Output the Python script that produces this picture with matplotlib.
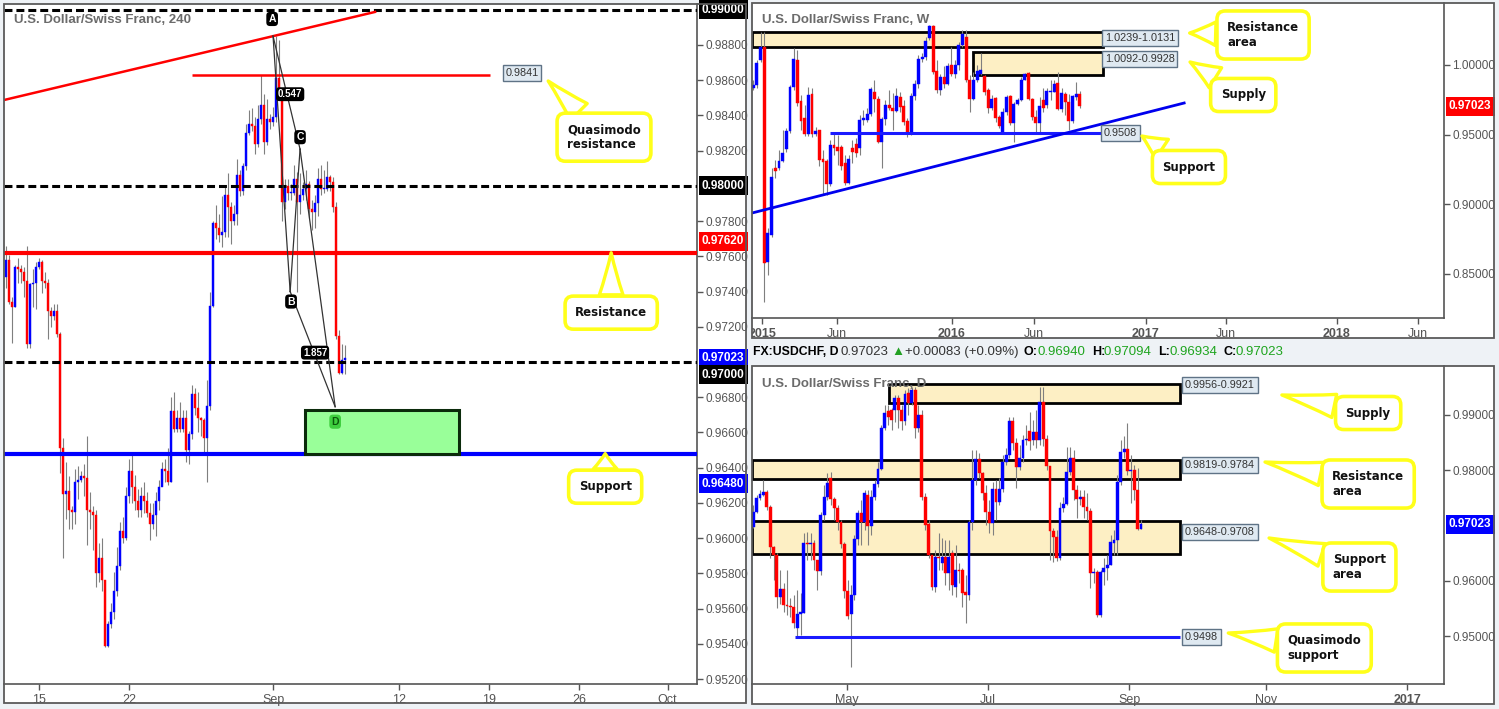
import numpy as np
import matplotlib
matplotlib.use('Agg')
import matplotlib.pyplot as plt
from matplotlib.patches import Rectangle

plt.rcParams['font.family'] = ['Liberation Sans', 'DejaVu Sans']

# ---------------- 4H candles (left panel) ----------------
h4_first_open = 0.9748
h4_close = [.9758, .9734, .9731, .9754, .9753, .9751, .9746, .9710, .9744, .9745,
            .9754, .9757, .9746, .9745, .9729, .9726, .9729, .9716, .9651, .9625,
            .9627, .9616, .9615, .9632, .9633, .9635, .9634, .9616, .9615, .9613,
            .9580, .9589, .9576, .9539, .9551, .9558, .9570, .9584, .9604, .9600,
            .9624, .9638, .9629, .9621, .9616, .9624, .9621, .9614, .9608, .9613,
            .9621, .9629, .9639, .9638, .9632, .9672, .9662, .9668, .9662, .9668,
            .9650, .9659, .9682, .9674, .9668, .9667, .9657, .9675, .9732, .9779,
            .9776, .9772, .9774, .9795, .9788, .9780, .9784, .9806, .9797, .9811,
            .9830, .9835, .9834, .9824, .9838, .9846, .9825, .9838, .9836, .9839,
            .9861, .9852, .9791, .9800, .9796, .9796, .9804, .9791, .9795, .9798,
            .9801, .9787, .9785, .9790, .9804, .9798, .9798, .9805, .9802, .9788,
            .9715, .9694, .9701, .97023]
h4_high = [.9766, .9761, .9737, .9755, .9759, .9755, .9754, .9766, .9745, .9753,
           .9757, .9759, .9758, .9751, .9747, .9731, .9733, .9733, .9717, .9657,
           .9643, .9635, .9618, .9639, .9641, .9638, .9642, .9658, .9626, .9618,
           .9616, .9597, .9600, .9576, .9553, .9563, .9581, .9595, .9609, .9612,
           .9629, .9645, .9649, .9636, .9628, .9629, .9632, .9626, .9620, .9620,
           .9626, .9633, .9643, .9645, .9651, .9680, .9683, .9673, .9677, .9673,
           .9673, .9661, .9687, .9685, .9683, .9669, .9668, .9690, .9740, .9780,
           .9789, .9784, .9794, .9800, .9807, .9791, .9789, .9815, .9809, .9813,
           .9835, .9843, .9844, .9839, .9846, .9863, .9852, .9849, .9841, .9845,
           .9885, .9883, .9855, .9804, .9804, .9801, .9812, .9808, .9807, .9802,
           .9809, .9803, .9792, .9795, .9810, .9812, .9809, .9814, .9806, .9805,
           .9791, .9718, .9710, .97094]
h4_low = [.9742, .9733, .9711, .9731, .9745, .9745, .9737, .9708, .9708, .9731,
          .9730, .9753, .9739, .9742, .9713, .9720, .9724, .9714, .9637, .9589,
          .9611, .9605, .9605, .9608, .9622, .9632, .9624, .9596, .9605, .9593,
          .9572, .9575, .9570, .9538, .9538, .9549, .9554, .9567, .9582, .9597,
          .9599, .9620, .9620, .9616, .9612, .9612, .9614, .9612, .9599, .9605,
          .9601, .9616, .9630, .9632, .9630, .9632, .9660, .9660, .9660, .9660,
          .9643, .9642, .9656, .9670, .9660, .9658, .9649, .9632, .9673, .9731,
          .9770, .9768, .9765, .9771, .9771, .9767, .9778, .9778, .9794, .9795,
          .9809, .9829, .9831, .9818, .9822, .9835, .9818, .9823, .9832, .9834,
          .9836, .9849, .9780, .9787, .9792, .9792, .9795, .9740, .9784, .9792,
          .9792, .9782, .9775, .9776, .9783, .9795, .9796, .9797, .9797, .9785,
          .9713, .9693, .9693, .96934]
h4_tick_pos = [11, 41, 89, 131, 161, 191, 220.5]
h4_tick_lab = ['15', '22', 'Sep', '12', '19', '26', 'Oct']

# ---------------- weekly candles (top right) ----------------
w_open = [.9835, .9856, 1.0036, 1.0129, .8583, .8777, .9259, .9259, .9309, .9396,
          .9525, .9842, 1.0036, .9741, .9619, .9504, .9791, .9504, .9532, .9324,
          .9309, .9144, .9424, .9410, .9410, .9295, .9151, .9403, .9432, .9403,
          .9604, .9604, .9648, .9806, .9755, .9446, .9612, .9712, .9691, .9669,
          .9770, .9705, .9597, .9504, .9777, .9863, 1.0043, 1.0058, 1.0194, 1.0281,
          .9957, .9820, .9914, .9863, 1.0000, .9935, 1.0000, 1.0144, 1.0201, .9892,
          .9755, .9892, .9935, .9921, .9820, .9691, .9763, .9626, .9511, .9662,
          .9777, .9583, .9719, .9748, .9892, .9942, .9755, .9626, .9583, .9748,
          .9712, .9806, .9806, .9871, .9684, .9791, .9734, .9597, .9770, .9791]
w_close = [.9856, 1.0014, 1.0129, .8576, .8791, .9194, .9237, .9309, .9367, .9525,
           .9842, 1.0043, .9727, .9597, .9504, .9784, .9504, .9525, .9317, .9302,
           .9144, .9424, .9403, .9381, .9273, .9151, .9324, .9374, .9367, .9604,
           .9619, .9648, .9827, .9755, .9446, .9612, .9712, .9691, .9669, .9777,
           .9698, .9590, .9511, .9777, .9863, 1.0043, 1.0058, 1.0173, 1.0281, .9950,
           .9820, .9914, .9863, .9993, .9935, 1.0000, 1.0144, 1.0223, .9892, .9755,
           .9892, .9957, .9964, .9806, .9691, .9755, .9619, .9561, .9662, .9770,
           .9583, .9719, .9748, .9892, .9935, .9755, .9626, .9583, .9705, .9691,
           .9813, .9813, .9863, .9684, .9799, .9734, .9597, .9777, .9791, .97023]
w_high = [.9892, 1.0036, 1.0237, 1.0237, .8827, .9259, .9317, .9388, .9532, .9547,
          .9856, 1.0122, 1.0108, .9784, .9712, .9842, .9835, .9554, .9532, .9388,
          .9324, .9460, .9511, .9496, .9424, .9353, .9353, .9460, .9475, .9640,
          .9676, .9691, .9842, .9892, .9777, .9626, .9748, .9820, .9799, .9835,
          .9806, .9748, .9619, .9799, .9892, 1.0072, 1.0086, 1.0201, 1.0288, 1.0288,
          1.0036, .9935, .9993, 1.0014, 1.0129, 1.0036, 1.0165, 1.0252, 1.0252, .9928,
          .9950, 1.0000, 1.0086, .9928, .9835, .9784, .9770, .9640, .9691, .9784,
          .9784, .9734, .9763, .9914, .9942, .9950, .9763, .9676, .9770, .9835,
          .9835, .9892, .9892, .9950, .9835, .9806, .9791, .9784, .9878, .9813]
w_low = [.9820, .9835, 1.0022, .8295, .8489, .8763, .9187, .9245, .9302, .9374,
         .9511, .9820, .9705, .9532, .9489, .9489, .9482, .9489, .9273, .9065,
         .9065, .9129, .9353, .9281, .9245, .9137, .9144, .9295, .9338, .9353,
         .9568, .9590, .9633, .9662, .9439, .9259, .9568, .9676, .9532, .9662,
         .9662, .9568, .9482, .9496, .9748, .9835, 1.0022, 1.0036, 1.0180, .9935,
         .9799, .9784, .9835, .9856, .9921, .9906, .9964, 1.0129, .9878, .9662,
         .9748, .9878, .9928, .9784, .9655, .9676, .9590, .9547, .9518, .9640,
         .9568, .9446, .9712, .9741, .9892, .9748, .9604, .9518, .9518, .9662,
         .9691, .9748, .9806, .9676, .9662, .9640, .9532, .9583, .9748, .9691]
w_tick_pos = [2.4, 22.8, 54.1, 76.4, 106.9, 128.7, 159.0, 181.0]
w_tick_lab = ['2015', 'Jun', '2016', 'Jun', '2017', 'Jun', '2018', 'Jun']

# ---------------- daily candles (bottom right) ----------------
d_open = [.96975, .97246, .97499, .97553, .97608, .97336, .96613, .96468, .95709, .95854,
          .95564, .95546, .95528, .95148, .95402, .95420, .96685, .96667, .96685, .96378,
          .96179, .97192, .97517, .97861, .97481, .97318, .97065, .96667, .95818, .95402,
          .95745, .96758, .97228, .97065, .97553, .96992, .97517, .97752, .98024, .98765,
          .99072, .99090, .99090, .99307, .99090, .98892, .99398, .99217, .99452, .98765,
          .99000, .97517, .97029, .96468, .95890, .96432, .96324, .96432, .96143, .96505,
          .95890, .96197, .96197, .95799, .95745, .97065, .97825, .98204, .97951, .97590,
          .97246, .97047, .97662, .97427, .97662, .98150, .98277, .98892, .98494, .98060,
          .98222, .98548, .98711, .98548, .98693, .98548, .99235, .98566, .98078, .96902,
          .96794, .96414, .97318, .97391, .97969, .98222, .97644, .97481, .97517, .97336,
          .97264, .96143, .96161, .95383, .96161, .96233, .96288, .96685, .96740, .97788,
          .98331, .98385, .97987, .98005, .97644, .96940]
d_close = [.97246, .97499, .97572, .97608, .97336, .96613, .96468, .95709, .95854, .95564,
           .95546, .95528, .95239, .95402, .95438, .96685, .96667, .96685, .96378, .96179,
           .97192, .97517, .97770, .97481, .97318, .97065, .96667, .95818, .95365, .95745,
           .96758, .97228, .97065, .97590, .96992, .97517, .97752, .98024, .98765, .99036,
           .98964, .98910, .99307, .99090, .98892, .99380, .99217, .99452, .98765, .99000,
           .97517, .97011, .96468, .95890, .96432, .96414, .96432, .96143, .96432, .95926,
           .96197, .96179, .95781, .95745, .97065, .97825, .98204, .97951, .97590, .97246,
           .97047, .97662, .97427, .97662, .98150, .98277, .98892, .98494, .98060, .98222,
           .98548, .98566, .98530, .98693, .98548, .99235, .98566, .98078, .96902, .96794,
           .96414, .97318, .97391, .97969, .98222, .97644, .97481, .97517, .97336, .97264,
           .96143, .96161, .95383, .96161, .96233, .96288, .96703, .96740, .97788, .98331,
           .98385, .97987, .98005, .97644, .96939, .97023]
d_high = [.97373, .97553, .97644, .97825, .97644, .97373, .96631, .96505, .96197, .95962,
          .96197, .95691, .95745, .95836, .95781, .96866, .96884, .96866, .96740, .96378,
          .97246, .97734, .97951, .97969, .97517, .97373, .97101, .96703, .96016, .95926,
          .96830, .97282, .97463, .97644, .97644, .97644, .97825, .98150, .98819, .99181,
          .99181, .99127, .99362, .99362, .99181, .99452, .99488, .99506, .99506, .99181,
          .99090, .97590, .97101, .96468, .96559, .96866, .96776, .96740, .96740, .96559,
          .96649, .96324, .96233, .96107, .97101, .98367, .98367, .98313, .97969, .97734,
          .97463, .97788, .97825, .97861, .98277, .98403, .98964, .98964, .98584, .98458,
          .98638, .98819, .99054, .98910, .99090, .99506, .99506, .98638, .98078, .96957,
          .96920, .97427, .97518, .98421, .98421, .98367, .97734, .97644, .97644, .97590,
          .97318, .96233, .96197, .96197, .96414, .96468, .96830, .96920, .97915, .98548,
          .98620, .98855, .98277, .98096, .98042, .97094]
d_low = [.96957, .97228, .97463, .97535, .97282, .96414, .96016, .95510, .95582, .95438,
         .95383, .95347, .95148, .95003, .95022, .95420, .96378, .96378, .96197, .95836,
         .96107, .97101, .97463, .97373, .97101, .96920, .96595, .95691, .95311, .94443,
         .95655, .96649, .96649, .96920, .96649, .96830, .97463, .97698, .98005, .98729,
         .98819, .98729, .98873, .98765, .98729, .98819, .99000, .99181, .98584, .98693,
         .97463, .96920, .96414, .95836, .95799, .96197, .96197, .95926, .95836, .95745,
         .95709, .95962, .95528, .95239, .95655, .96920, .97734, .97861, .97463, .97011,
         .96866, .96830, .97101, .97373, .97608, .98096, .98222, .98367, .97680, .98005,
         .98150, .98458, .98367, .98458, .98403, .98458, .98439, .98005, .96378, .96342,
         .96360, .96378, .97246, .97373, .97915, .97463, .97137, .97373, .97137, .97101,
         .95872, .95962, .95347, .95347, .95926, .96016, .96288, .96468, .96468, .97734,
         .98222, .97915, .97409, .97463, .96920, .96934]
d_tick_pos = [27.8, 69.6, 111.5, 152.0, 194.0]
d_tick_lab = ['May', 'Jul', 'Sep', 'Nov', '2017']

last_price = 0.97023

# ---------------- layout helpers ----------------
W, H = 1499, 709
BG = '#eef2f6'
BLUE = '#0000ff'
RED = '#ff0000'
WICK = '#7f7f7f'
AXC = '#555555'
YELLOW = '#ffff1a'

fig = plt.figure(figsize=(W / 100, H / 100), dpi=100, facecolor=BG)


def frac(x0, y0, x1, y1):
    return [x0 / W, 1 - y1 / H, (x1 - x0) / W, (y1 - y0) / H]


def panel(x0, y0, x1, y1):
    r = frac(x0, y0, x1, y1)
    fig.add_artist(Rectangle((r[0], r[1]), r[2], r[3], transform=fig.transFigure,
                             fc='white', ec='none', zorder=-5))
    border = Rectangle((r[0], r[1]), r[2], r[3], transform=fig.transFigure,
                       fill=False, ec='#5a5a5a', lw=1.3, zorder=20)
    fig.add_artist(border)
    return border


def make_axes(pos, xlim, ylim, yticks, xpos, xlab):
    ax = fig.add_axes(frac(*pos))
    ax.set_facecolor('white')
    ax.set_xlim(*xlim)
    ax.set_ylim(*ylim)
    for s in ('left', 'top'):
        ax.spines[s].set_visible(False)
    for s in ('right', 'bottom'):
        ax.spines[s].set_color(AXC)
        ax.spines[s].set_linewidth(1.2)
    ax.yaxis.tick_right()
    ax.set_yticks(yticks)
    ax.set_yticklabels([f'{v:.5f}' for v in yticks])
    ax.set_xticks(xpos)
    ax.set_xticklabels(xlab)
    ax.tick_params(axis='y', colors=AXC, labelsize=8.5, length=4, width=1, pad=2)
    ax.tick_params(axis='x', colors=AXC, labelsize=9, length=4, width=1, pad=3)
    for lab in ax.get_xticklabels():
        if lab.get_text().isdigit() and len(lab.get_text()) == 4:
            lab.set_fontweight('bold')
    return ax


def candles(ax, o, c, hi, lo, width, min_h):
    o = np.asarray(o)
    c = np.asarray(c)
    x = np.arange(len(c))
    ax.vlines(x, lo, hi, color=WICK, lw=0.8, zorder=2)
    cols = np.where(c >= o, BLUE, RED)
    ax.bar(x, np.maximum(np.abs(c - o), min_h), width, np.minimum(o, c),
           color=cols, edgecolor=cols, lw=0.3, zorder=3)


def tag(ax, y, text, color):
    ax.text(1.007, y, text, transform=ax.get_yaxis_transform(), ha='left', va='center',
            color='white', fontsize=8.5, fontweight='bold', zorder=15, clip_on=False,
            bbox=dict(boxstyle='square,pad=0.28', fc=color, ec='none'))


def callout(ax, text, xy_text, xy_tip, tw=2.0):
    ax.annotate(text, xy=xy_tip, xytext=xy_text, ha='center', va='center',
                fontsize=8.5, fontweight='bold', family='DejaVu Sans', color='#111111',
                multialignment='left', zorder=12, annotation_clip=False,
                bbox=dict(boxstyle='round,pad=0.85,rounding_size=0.7', fc='white',
                          ec=YELLOW, lw=2.6),
                arrowprops=dict(arrowstyle=f'wedge,tail_width={tw},shrink_factor=0.45',
                                fc='white', ec=YELLOW, lw=2.4, shrinkA=0, shrinkB=0))


def vlabel(ax, x, y, text, ha='left'):
    ax.text(x, y, text, ha=ha, va='center', fontsize=7.8, color='#333333', zorder=9,
            clip_on=False,
            bbox=dict(boxstyle='square,pad=0.25', fc='#dfe9f1', ec='#5f7386', lw=1))


def plabel(ax, x, y, text, fc='black', color='white', size=7.5):
    ax.text(x, y, text, ha='center', va='center', fontsize=size, fontweight='bold',
            color=color, zorder=9,
            bbox=dict(boxstyle='round,pad=0.2,rounding_size=0.35', fc=fc, ec='none'))


# ================= left: 4H =================
panel(4, 4, 746, 703)
ticks_l = [v for v in np.round(np.arange(0.952, 0.9881, 0.002), 3) if v not in (0.97, 0.98, 0.99)]
ax1 = make_axes((4, 4, 697, 684), (-0.67, 230.3), (0.95172, 0.99032), ticks_l,
                h4_tick_pos, h4_tick_lab)
h4_open = [h4_first_open] + h4_close[:-1]

for lvl in (0.99, 0.98, 0.97):
    ax1.axhline(lvl, color='black', lw=2.2, dashes=(2.6, 1.3), zorder=4)
ax1.axhline(0.9762, color=RED, lw=3, zorder=4)
ax1.axhline(0.9648, color=BLUE, lw=3, zorder=4)
ax1.hlines(0.9863, 62, 161.3, color=RED, lw=1.8, zorder=4)
ax1.plot([-0.67, 123], [0.98487, 0.98987], color=RED, lw=1.8, zorder=4)

ax1.add_patch(Rectangle((99.7, 0.9648), 51.3, 0.00248, fc='#99ff99', ec='#0b2b0b',
                        lw=2.2, zorder=6))

candles(ax1, h4_open, h4_close, h4_high, h4_low, 0.95, 0.00006)

# ABCD pattern
pA, pB, pC, pD = (89, 0.9885), (94.7, 0.9740), (98, 0.98208), (109.7, 0.96746)
for p, q in ((pA, pB), (pB, pC), (pC, pD), (pA, pC), (pB, pD)):
    ax1.plot([p[0], q[0]], [p[1], q[1]], color='#333333', lw=0.9, zorder=7)
plabel(ax1, 88.7, 0.98947, 'A')
plabel(ax1, 95, 0.97343, 'B')
plabel(ax1, 98, 0.98276, 'C')
plabel(ax1, 109.7, 0.96661, 'D', fc='#3fcf3f', color='#0a5a0a')
plabel(ax1, 94.7, 0.98520, '0.547', size=7)
plabel(ax1, 103, 0.97053, '1.857', size=7)

vlabel(ax1, 172, 0.98640, '0.9841', ha='center')
callout(ax1, 'Quasimodo\nresistance', (199.3, 0.98276), (180.7, 0.98595))
callout(ax1, 'Resistance', (201.7, 0.97280), (201.7, 0.9762))
callout(ax1, 'Support', (199.7, 0.96292), (199.7, 0.9648))

tag(ax1, 0.99, '0.99000', 'black')
tag(ax1, 0.98, '0.98000', 'black')
tag(ax1, 0.97685, '0.97620', RED)
tag(ax1, last_price, '0.97023', BLUE)
tag(ax1, 0.96928, '0.97000', 'black')
tag(ax1, 0.96309, '0.96480', BLUE)

ax1.text(0.0144, 0.9765, 'U.S. Dollar/Swiss Franc, 240', transform=ax1.transAxes,
         ha='left', va='center', fontsize=9.5, fontweight='bold', color='#6b6b6b', zorder=10)

# ================= top right: weekly =================
wborder = panel(752, 3, 1494, 338)
ax2 = make_axes((752, 3, 1444, 318), (-0.35, 188.2), (0.8180, 1.0446),
                [0.85, 0.90, 0.95, 1.00], w_tick_pos, w_tick_lab)
ax2.get_xticklabels()[0].set_clip_path(wborder)

ax2.add_patch(Rectangle((-0.35, 1.0131), 95.65, 0.0108, fc='#fdefc4', ec='black', lw=2, zorder=1))
ax2.add_patch(Rectangle((59.8, 0.9928), 35.5, 0.0164, fc='#fdefc4', ec='black', lw=2, zorder=1))
ax2.hlines(0.9508, 20.9, 95.3, color='#1a1aff', lw=2.2, zorder=4)
ax2.plot([-0.35, 117.4], [0.89353, 0.97266], color='#0000ee', lw=2, zorder=4)

candles(ax2, w_open, w_close, w_high, w_low, 0.8, 0.0007)

vlabel(ax2, 95.8, 1.01942, '1.0239-1.0131')
vlabel(ax2, 95.8, 1.0043, '1.0092-0.9928')
vlabel(ax2, 95.5, 0.9511, '0.9508')
callout(ax2, 'Resistance\narea', (138.9, 1.02158), (118.9, 1.0230))
callout(ax2, 'Supply', (133.5, 0.97842), (119, 1.00216))
callout(ax2, 'Support', (118.7, 0.92662), (105.9, 0.94892))
tag(ax2, last_price, '0.97023', RED)

ax2.text(0.0145, 0.946, 'U.S. Dollar/Swiss Franc, W', transform=ax2.transAxes,
         ha='left', va='center', fontsize=9.5, fontweight='bold', color='#6b6b6b', zorder=10)

# ---------------- header line ----------------
hy = 1 - 352 / H
header = [
    (753, 'FX:USDCHF, D', 'black', 'bold', 8.8),
    (841, '0.97023', '#333333', 'normal', 9.5),
    (891, '\u25b2', '#22a022', 'normal', 9.5),
    (905, '+0.00083 (+0.09%)', '#333333', 'normal', 9.5),
    (1023, 'O:', 'black', 'bold', 9),
    (1037, '0.96940', '#1fa51f', 'normal', 9.5),
    (1092, 'H:', 'black', 'bold', 9),
    (1104, '0.97094', '#1fa51f', 'normal', 9.5),
    (1158, 'L:', 'black', 'bold', 9),
    (1170, '0.96934', '#1fa51f', 'normal', 9.5),
    (1223, 'C:', 'black', 'bold', 9),
    (1236, '0.97023', '#1fa51f', 'normal', 9.5),
]
for hx, txt, col, wt, fs in header:
    fig.text(hx / W, hy, txt, ha='left', va='center', fontsize=fs, color=col,
             fontweight=wt, family=['Liberation Sans', 'DejaVu Sans'])

# ================= bottom right: daily =================
panel(752, 366, 1494, 704)
ax3 = make_axes((752, 366, 1444, 684), (-0.39, 204.9), (0.94136, 0.99886),
                [0.95, 0.96, 0.98, 0.99], d_tick_pos, d_tick_lab)

ax3.add_patch(Rectangle((40.3, 0.9921), 86.3, 0.0035, fc='#fdefc4', ec='black', lw=2, zorder=1))
ax3.add_patch(Rectangle((-0.39, 0.9784), 127.0, 0.0035, fc='#fdefc4', ec='black', lw=2, zorder=1))
ax3.add_patch(Rectangle((-0.39, 0.9648), 127.0, 0.0060, fc='#fdefc4', ec='black', lw=2, zorder=1))
ax3.hlines(0.9498, 12.4, 126.6, color='#1a1aff', lw=2.2, zorder=4)

candles(ax3, d_open, d_close, d_high, d_low, 0.85, 0.00018)

vlabel(ax3, 128.1, 0.99542, '0.9956-0.9921')
vlabel(ax3, 128.1, 0.98096, '0.9819-0.9784')
vlabel(ax3, 128.1, 0.96884, '0.9648-0.9708')
vlabel(ax3, 128.1, 0.94986, '0.9498')
callout(ax3, 'Supply', (182.4, 0.99036), (156.8, 0.99362))
callout(ax3, 'Resistance\narea', (182.4, 0.97752), (151.8, 0.98150))
callout(ax3, 'Support\narea', (179.8, 0.96251), (153, 0.96776))
callout(ax3, 'Quasimodo\nsupport', (169.4, 0.94787), (140.9, 0.95058))
tag(ax3, last_price, '0.97023', BLUE)

ax3.text(0.0145, 0.943, 'U.S. Dollar/Swiss Franc, D', transform=ax3.transAxes,
         ha='left', va='center', fontsize=9.5, fontweight='bold', color='#6b6b6b', zorder=10)

fig.savefig('out.png', dpi=100, facecolor=BG)
